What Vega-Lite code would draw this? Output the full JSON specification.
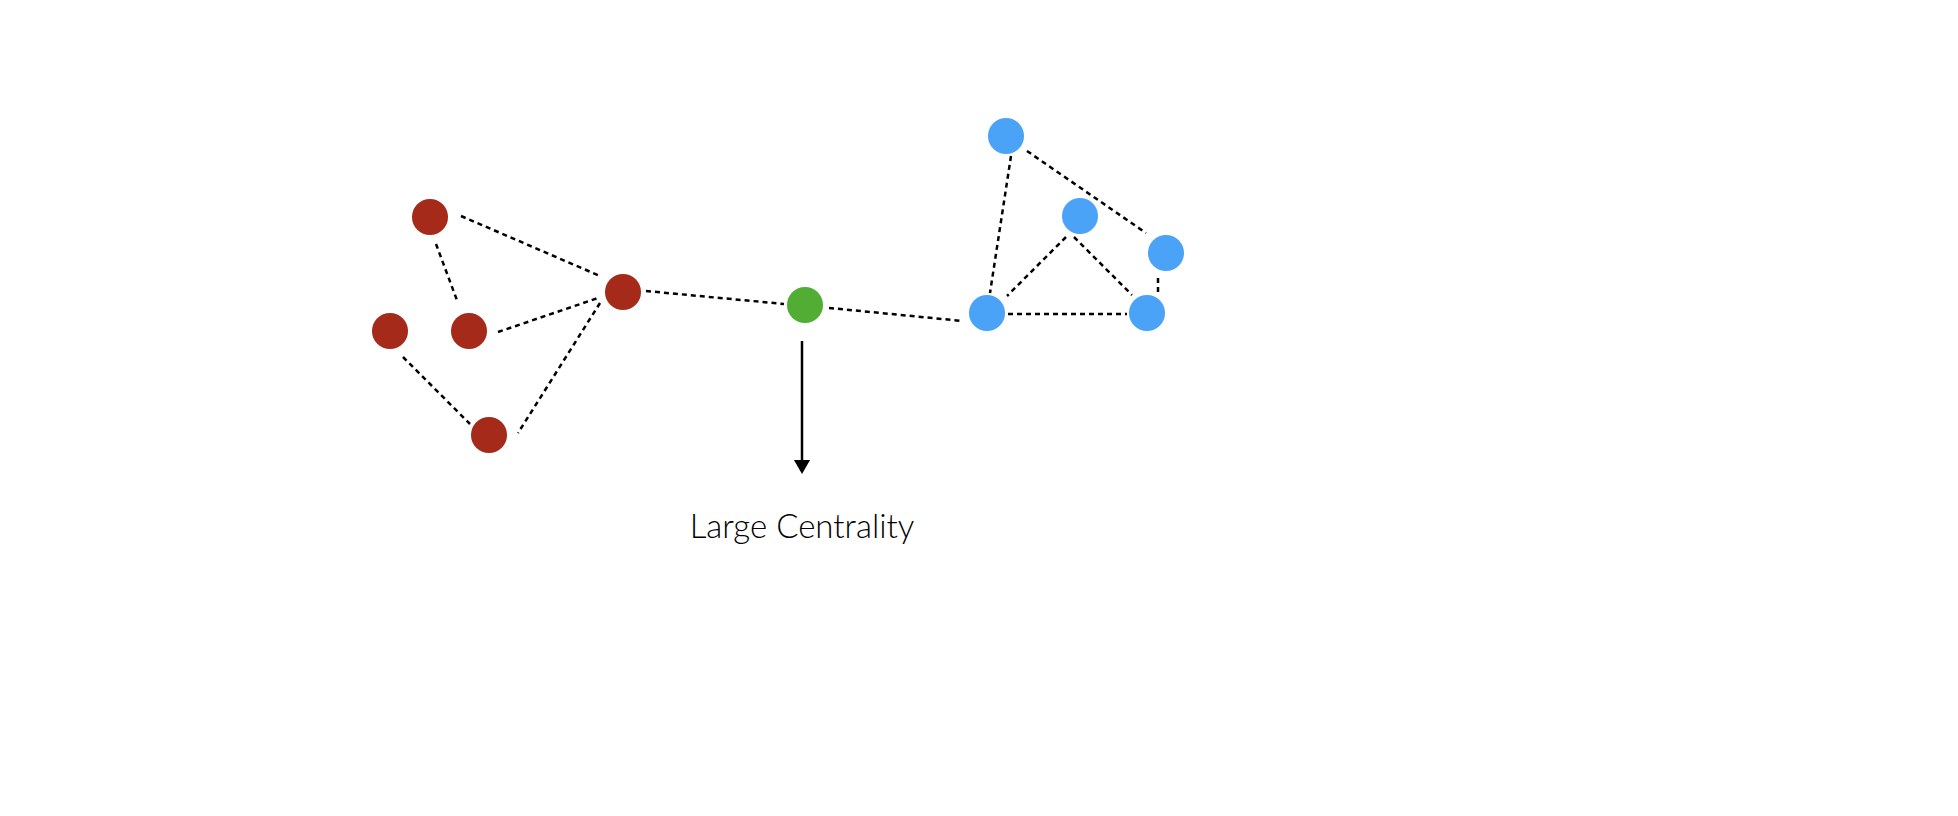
{
"$schema":"https://vega.github.io/schema/vega-lite/v6.json",
"width":1958,"height":816,"padding":0,
"autosize":{"type":"fit","contains":"padding"},
"config":{"view":{"stroke":null}},
"datasets":{
"edges":[
{"x":461,"y":216,"x2":600,"y2":276},
{"x":436,"y":244,"x2":458,"y2":303},
{"x":498,"y":332,"x2":598,"y2":298},
{"x":600,"y":303,"x2":518,"y2":433},
{"x":403,"y":357,"x2":470,"y2":424},
{"x":646,"y":291,"x2":784,"y2":304},
{"x":829,"y":308,"x2":963,"y2":321},
{"x":1011,"y":156,"x2":990,"y2":293},
{"x":1027,"y":151,"x2":1146,"y2":233},
{"x":1066,"y":237,"x2":1007,"y2":296},
{"x":1074,"y":237,"x2":1132,"y2":295},
{"x":1158,"y":278,"x2":1158,"y2":295},
{"x":1008,"y":314,"x2":1127,"y2":314}
],
"nodes":[
{"x":430,"y":217,"g":"red"},{"x":623,"y":292,"g":"red"},{"x":390,"y":331,"g":"red"},{"x":469,"y":331,"g":"red"},{"x":489,"y":435,"g":"red"},
{"x":805,"y":305,"g":"green"},
{"x":1006,"y":136,"g":"blue"},{"x":1080,"y":216,"g":"blue"},{"x":1166,"y":253,"g":"blue"},{"x":987,"y":313,"g":"blue"},{"x":1147,"y":313,"g":"blue"}
],
"arrow":[{"x":802,"y":341,"x2":802,"y2":462}],
"head":[{"x":802,"y":467}],
"label":[{"x":802,"y":528,"t":"Large Centrality"}]
},
"layer":[
{"data":{"name":"edges"},"mark":{"type":"rule","strokeDash":[5,4],"strokeWidth":2.5,"color":"black"},
"encoding":{"x":{"field":"x","type":"quantitative","scale":{"domain":[0,1958]},"axis":null},"y":{"field":"y","type":"quantitative","scale":{"domain":[816,0]},"axis":null},"x2":{"field":"x2"},"y2":{"field":"y2"}}},
{"data":{"name":"nodes"},"mark":{"type":"circle","size":1300,"opacity":1},
"encoding":{"x":{"field":"x","type":"quantitative","scale":{"domain":[0,1958]},"axis":null},"y":{"field":"y","type":"quantitative","scale":{"domain":[816,0]},"axis":null},
"color":{"field":"g","type":"nominal","scale":{"domain":["red","green","blue"],"range":["#a52a1a","#52ad34","#4aa3f7"]},"legend":null}}},
{"data":{"name":"arrow"},"mark":{"type":"rule","strokeWidth":2.5,"color":"black"},
"encoding":{"x":{"field":"x","type":"quantitative","scale":{"domain":[0,1958]},"axis":null},"y":{"field":"y","type":"quantitative","scale":{"domain":[816,0]},"axis":null},"x2":{"field":"x2"},"y2":{"field":"y2"}}},
{"data":{"name":"head"},"mark":{"type":"point","shape":"triangle-down","filled":true,"size":260,"color":"black","opacity":1},
"encoding":{"x":{"field":"x","type":"quantitative","scale":{"domain":[0,1958]},"axis":null},"y":{"field":"y","type":"quantitative","scale":{"domain":[816,0]},"axis":null}}},
{"data":{"name":"label"},"mark":{"type":"text","font":"Lato","fontSize":33,"fontWeight":300,"color":"black","align":"center","baseline":"middle"},
"encoding":{"x":{"field":"x","type":"quantitative","scale":{"domain":[0,1958]},"axis":null},"y":{"field":"y","type":"quantitative","scale":{"domain":[816,0]},"axis":null},"text":{"field":"t"}}}
]
}
